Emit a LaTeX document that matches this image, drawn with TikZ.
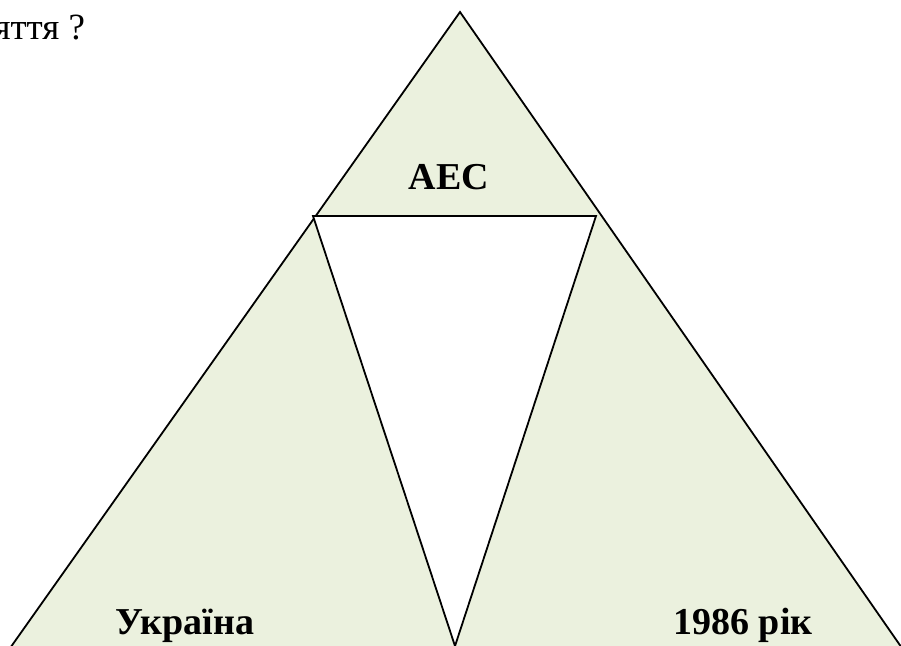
\documentclass[tikz,border=0pt]{standalone}
\usepackage{fontspec}
\setmainfont{Liberation Serif}
\definecolor{paleolive}{HTML}{EBF1DE}

\begin{document}
\begin{tikzpicture}[x=1pt,y=-1pt,line width=1.8pt,
  side/.style={draw=black,fill=paleolive,line join=miter},
  hole/.style={draw=black,fill=white,line join=miter},
  word/.style={font=\fontsize{38}{42}\selectfont\bfseries,anchor=base},
  ask/.style={font=\fontsize{37}{42}\selectfont,anchor=base east,inner xsep=0pt}]

  \useasboundingbox (0,0) rectangle (901,645);

  \coordinate (top) at (460,12);
  \coordinate (left) at (8,651);
  \coordinate (right) at (904,651);
  \coordinate (cutL) at (313,216);
  \coordinate (cutR) at (596,216);
  \coordinate (cutB) at (455,646);

  % outer triangle and the white cut
  \draw[side] (top) -- (left) -- (right) -- cycle;
  \draw[hole] (cutL) -- (cutR) -- (cutB) -- cycle;

  \node[ask] (question) at (86,39) {яття ?};
  \node[word] (aes) at (449,189) {АЕС};
  \node[word] (ukr) at (185,634) {Україна};
  \node[word] (year) at (743,634) {1986 рік};
\end{tikzpicture}
\end{document}
